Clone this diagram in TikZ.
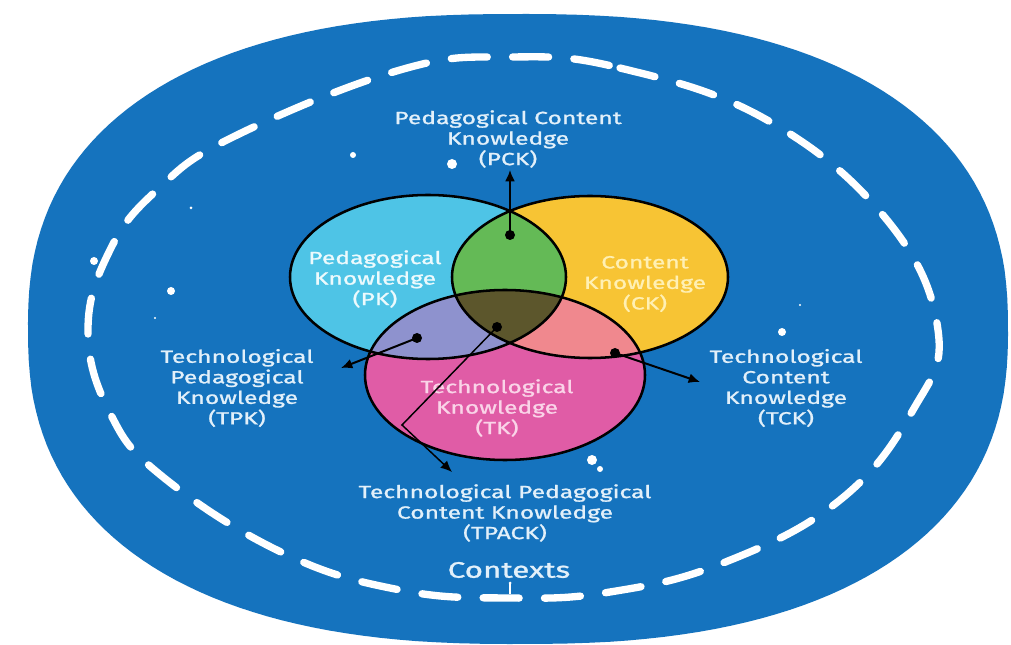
\documentclass[tikz,border=0pt]{standalone}
\usepackage{fontspec}
\setmainfont{Fira Sans}
\newfontfamily\lblfont[FakeStretch=1.4,FakeBold=1.2]{Fira Sans}
\usetikzlibrary{arrows.meta}
\definecolor{bgblue}{RGB}{21,115,190}
\definecolor{pkc}{RGB}{78,196,230}
\definecolor{ckc}{RGB}{247,196,52}
\definecolor{tkc}{RGB}{224,92,166}
\definecolor{pckc}{RGB}{100,186,86}
\definecolor{tpkc}{RGB}{142,146,206}
\definecolor{tckc}{RGB}{240,136,142}
\definecolor{allc}{RGB}{92,86,44}
\definecolor{lbltxt}{RGB}{226,240,250}
\definecolor{pktxt}{RGB}{236,250,253}
\definecolor{cktxt}{RGB}{255,240,180}
\definecolor{tktxt}{RGB}{250,212,232}
\tikzset{
  lbl/.style={text=lbltxt, align=center, inner sep=0pt, font=\lblfont\fontsize{13.2}{15.4}\selectfont},
  ring/.style={draw=black, line width=1.9pt},
  dotnode/.style={circle, fill=black, inner sep=0pt, minimum size=7.5pt},
  arr/.style={draw=black, line width=1.5pt, -{Latex[length=8.5pt,width=7.5pt]}},
  speck/.style={fill=white}
}
\begin{document}
\begin{tikzpicture}[x=0.75pt,y=-0.75pt]
\useasboundingbox (0,0) rectangle (1011,645);
\fill[white] (0,0) rectangle (1011,645);
% outer blob
\fill[bgblue] plot[domain=0.5:360.5, samples=181, variable=\t]
  ({518+490*sign(cos(\t))*abs(cos(\t))^(0.83)}, {329+315*sign(sin(\t))*abs(sin(\t))^(0.83)}) -- cycle;
% dashed contexts ring
\draw[white, line width=5.5pt, line cap=round, dash pattern=on 27pt off 19pt]
  plot[smooth cycle, tension=0.7] coordinates {(510,57) (620,68) (767,120) (887,220) (938,330) (913,410) (840,500) (723,563) (610,592) (510,598) (400,590) (283,553) (163,477) (110,413) (88,330) (110,250) (157,190) (233,137) (400,70)};
% specks
\fill[speck] (353,155) circle [radius=3];
\fill[speck] (452,164) circle [radius=5];
\fill[speck] (191,208) circle [radius=1.5];
\fill[speck] (94,261) circle [radius=4];
\fill[speck] (171,291) circle [radius=4];
\fill[speck] (155,318) circle [radius=1.2];
\fill[speck] (800,305) circle [radius=1.2];
\fill[speck] (782,332) circle [radius=4];
\fill[speck] (592,460) circle [radius=5];
\fill[speck] (600,469) circle [radius=3];
% venn fills
\fill[pkc] (428,277) ellipse [x radius=138, y radius=82];
\fill[ckc] (590,277) ellipse [x radius=138, y radius=81];
\fill[tkc] (505,375) ellipse [x radius=140, y radius=85];
\begin{scope}
  \clip (428,277) ellipse [x radius=138, y radius=82];
  \fill[pckc] (590,277) ellipse [x radius=138, y radius=81];
  \fill[tpkc] (505,375) ellipse [x radius=140, y radius=85];
\end{scope}
\begin{scope}
  \clip (590,277) ellipse [x radius=138, y radius=81];
  \fill[tckc] (505,375) ellipse [x radius=140, y radius=85];
\end{scope}
\begin{scope}
  \clip (428,277) ellipse [x radius=138, y radius=82];
  \clip (590,277) ellipse [x radius=138, y radius=81];
  \fill[allc] (505,375) ellipse [x radius=140, y radius=85];
\end{scope}
\draw[ring] (428,277) ellipse [x radius=138, y radius=82];
\draw[ring] (590,277) ellipse [x radius=138, y radius=81];
\draw[ring] (505,375) ellipse [x radius=140, y radius=85];
% labels
\node[lbl, text=pktxt] (pk) at (375,279) {Pedagogical\\Knowledge\\(PK)};
\node[lbl, text=cktxt] (ck) at (645,284) {Content\\Knowledge\\(CK)};
\node[lbl, text=tktxt] (tk) at (497,408) {Technological\\Knowledge\\(TK)};
\node[lbl] (pck) at (508,139) {Pedagogical Content\\Knowledge\\(PCK)};
\node[lbl] (tpk) at (237,388) {Technological\\Pedagogical\\Knowledge\\(TPK)};
\node[lbl] (tck) at (786,388) {Technological\\Content\\Knowledge\\(TCK)};
\node[lbl] (tpack) at (505,513) {Technological Pedagogical\\Content Knowledge\\(TPACK)};
\node[lbl, text=lbltxt, font=\lblfont\fontsize{16.8}{18}\selectfont] (ctx) at (509,570) {Contexts};
% dots
\node[dotnode] (dpck) at (510,235) {};
\node[dotnode] (dtpk) at (417,338) {};
\node[dotnode] (dtck) at (615,353) {};
\node[dotnode] (dtpack) at (497,327) {};
\coordinate (epck) at (510,170);
\coordinate (etpk) at (341,368);
\coordinate (etck) at (700,382);
\coordinate (bend) at (402,425);
\coordinate (etpack) at (452,472);
\draw[arr] (dpck.center) -- (epck);
\draw[arr] (dtpk.center) -- (etpk);
\draw[arr] (dtck.center) -- (etck);
\draw[arr, line width=1.1pt] (dtpack.center) -- (bend) -- (etpack);
% small tick under Contexts
\coordinate (tick) at (510,583);
\draw[white, line width=0.9pt] (tick) -- ++(0,11);
\fill[white] (tick) circle [radius=1.5];
\end{tikzpicture}
\end{document}
